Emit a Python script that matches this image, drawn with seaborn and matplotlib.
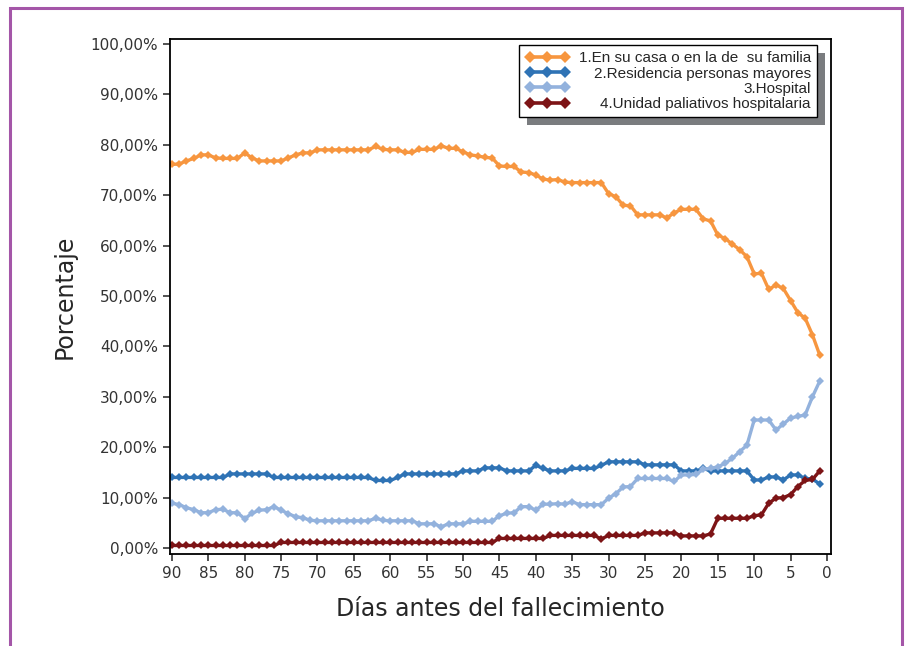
import numpy as np
import pandas as pd
import seaborn as sns
import matplotlib.pyplot as plt
from matplotlib.lines import Line2D
from matplotlib.patches import Rectangle
from matplotlib.ticker import FuncFormatter

# Days before death (90 -> 1)
dias = list(range(90, 0, -1))

casa = [76.1, 76.2, 76.8, 77.3, 78.0, 78.0, 77.4, 77.3, 77.3, 77.3,
        78.4, 77.4, 76.8, 76.8, 76.8, 76.8, 77.4, 78.0, 78.4, 78.4,
        79.0, 79.0, 79.0, 79.0, 79.0, 79.0, 79.0, 79.0, 79.7, 79.1,
        79.0, 79.0, 78.5, 78.5, 79.1, 79.1, 79.1, 79.8, 79.3, 79.3,
        78.6, 78.0, 77.8, 77.5, 77.4, 75.8, 75.7, 75.7, 74.6, 74.5,
        74.0, 73.2, 73.0, 73.1, 72.6, 72.5, 72.5, 72.5, 72.5, 72.5,
        70.3, 69.7, 68.0, 67.9, 66.1, 66.1, 66.1, 66.1, 65.5, 66.5,
        67.2, 67.2, 67.2, 65.3, 64.9, 62.1, 61.4, 60.3, 59.2, 57.8,
        54.4, 54.5, 51.3, 52.2, 51.5, 49.1, 46.7, 45.6, 42.3, 38.3]

residencia = ([14.0] * 8 + [14.7] * 6 + [14.0] * 14 + [13.4] * 3 + [14.0]
              + [14.7] * 8 + [15.3] * 3 + [15.9] * 3 + [15.3] * 4 + [16.4, 15.8]
              + [15.3] * 3 + [15.8] * 4 + [16.4] + [17.1] * 5 + [16.5] * 5
              + [15.3] * 3 + [15.8, 15.3] + [15.3] * 5
              + [13.5, 13.5, 14.1, 14.1, 13.5, 14.5, 14.5, 13.8, 13.7, 12.7])

hospital = ([8.9, 8.6, 8.0, 7.6, 7.0, 7.0, 7.6, 7.7, 7.0, 7.0,
             5.8, 6.9, 7.5, 7.6, 8.2, 7.5, 6.8, 6.2, 6.0, 5.5]
            + [5.4] * 8 + [5.9, 5.5] + [5.4] * 4 + [4.8] * 3 + [4.2]
            + [4.8] * 3 + [5.3] * 4
            + [6.4, 6.9, 7.0, 8.2, 8.2, 7.5, 8.7, 8.7, 8.8, 8.7,
               9.2, 8.6, 8.6, 8.6, 8.6, 9.9, 10.8, 12.1, 12.2]
            + [13.8] * 5
            + [13.2, 14.5, 14.5, 14.6, 15.6, 15.8, 16.1, 16.8, 17.8, 19.1,
               20.4, 25.4, 25.4, 25.4, 23.4, 24.6, 25.8, 26.1, 26.4, 30.0, 33.1])

paliativos = ([0.5] * 15 + [1.1] * 30 + [1.9] * 7 + [2.5] * 7 + [1.8]
              + [2.5] * 5 + [3.0] * 5 + [2.4] * 4 + [2.8] + [5.9] * 5
              + [6.4, 6.6, 8.9, 9.9, 10.0, 10.6, 12.2, 13.4, 13.6, 15.3])

etiquetas = ["1.En su casa o en la de  su familia",
             "2.Residencia personas mayores",
             "3.Hospital",
             "4.Unidad paliativos hospitalaria"]
colores = ["#f7963f", "#2f73b5", "#93b2dd", "#7d1416"]

df = pd.DataFrame({
    "dias": dias * 4,
    "valor": casa + residencia + hospital + paliativos,
    "serie": np.repeat(etiquetas, len(dias)),
})

sns.set_style("ticks")
plt.rcParams["font.family"] = ["DejaVu Sans"]

fig = plt.figure(figsize=(9.06, 6.46), dpi=100)
ax = fig.add_axes([0.1876, 0.1424, 0.7296, 0.7972])

sns.lineplot(data=df, x="dias", y="valor", hue="serie", style="serie",
             hue_order=etiquetas, palette=colores, markers=["D"] * 4,
             dashes=False, linewidth=2.4, markersize=4, markeredgewidth=0,
             legend=False, ax=ax)

ax.set_xlim(90.27, -0.55)
ax.set_ylim(-1.19, 100.99)
ax.set_xticks(range(90, -1, -5))
ax.set_yticks(range(0, 101, 10))
ax.yaxis.set_major_formatter(FuncFormatter(lambda v, p: f"{v:.2f}%".replace(".", ",")))
ax.tick_params(labelsize=11, colors="#333333", length=5, width=1.2)
for s in ax.spines.values():
    s.set_visible(True)
    s.set_color("black")
    s.set_linewidth(1.3)

ax.set_xlabel("Días antes del fallecimiento", fontsize=17, labelpad=12)
ax.set_ylabel("Porcentaje", fontsize=17, labelpad=10)

handles = [Line2D([], [], color=c, marker="D", markersize=6.5, lw=2.6, markeredgewidth=0)
           for c in colores]
leg = ax.legend(handles, etiquetas, loc="upper right", bbox_to_anchor=(0.979, 0.988),
                borderaxespad=0, numpoints=3, handlelength=2.9, handletextpad=0.6,
                labelspacing=0.08, fancybox=False, framealpha=1, edgecolor="black",
                prop={"family": "Liberation Sans", "size": 11}, borderpad=0.4)
leg.get_frame().set_linewidth(1.0)

# right-align the legend texts
fig.canvas.draw()
renderer = fig.canvas.get_renderer()
widths = [t.get_window_extent(renderer).width for t in leg.get_texts()]
for t, w in zip(leg.get_texts(), widths):
    t.set_position((max(widths) - w, 0))

fig.canvas.draw()
bb = leg.get_window_extent(renderer)
W, H = fig.bbox.width, fig.bbox.height
shadow = Rectangle(((bb.x0 + 8) / W, (bb.y0 - 8) / H), bb.width / W, bb.height / H,
                   transform=fig.transFigure, facecolor="#7a7c7f", edgecolor="none",
                   zorder=4.9, clip_on=False)
ax.add_patch(shadow)

# purple page frame
fig.patches.append(Rectangle((10 / 906, -0.05), 892 / 906, 1.05 - 8 / 646,
                             transform=fig.transFigure, fill=False,
                             edgecolor="#a456a8", linewidth=2.2, zorder=0))

fig.savefig("out.png", dpi=100, facecolor="white")
